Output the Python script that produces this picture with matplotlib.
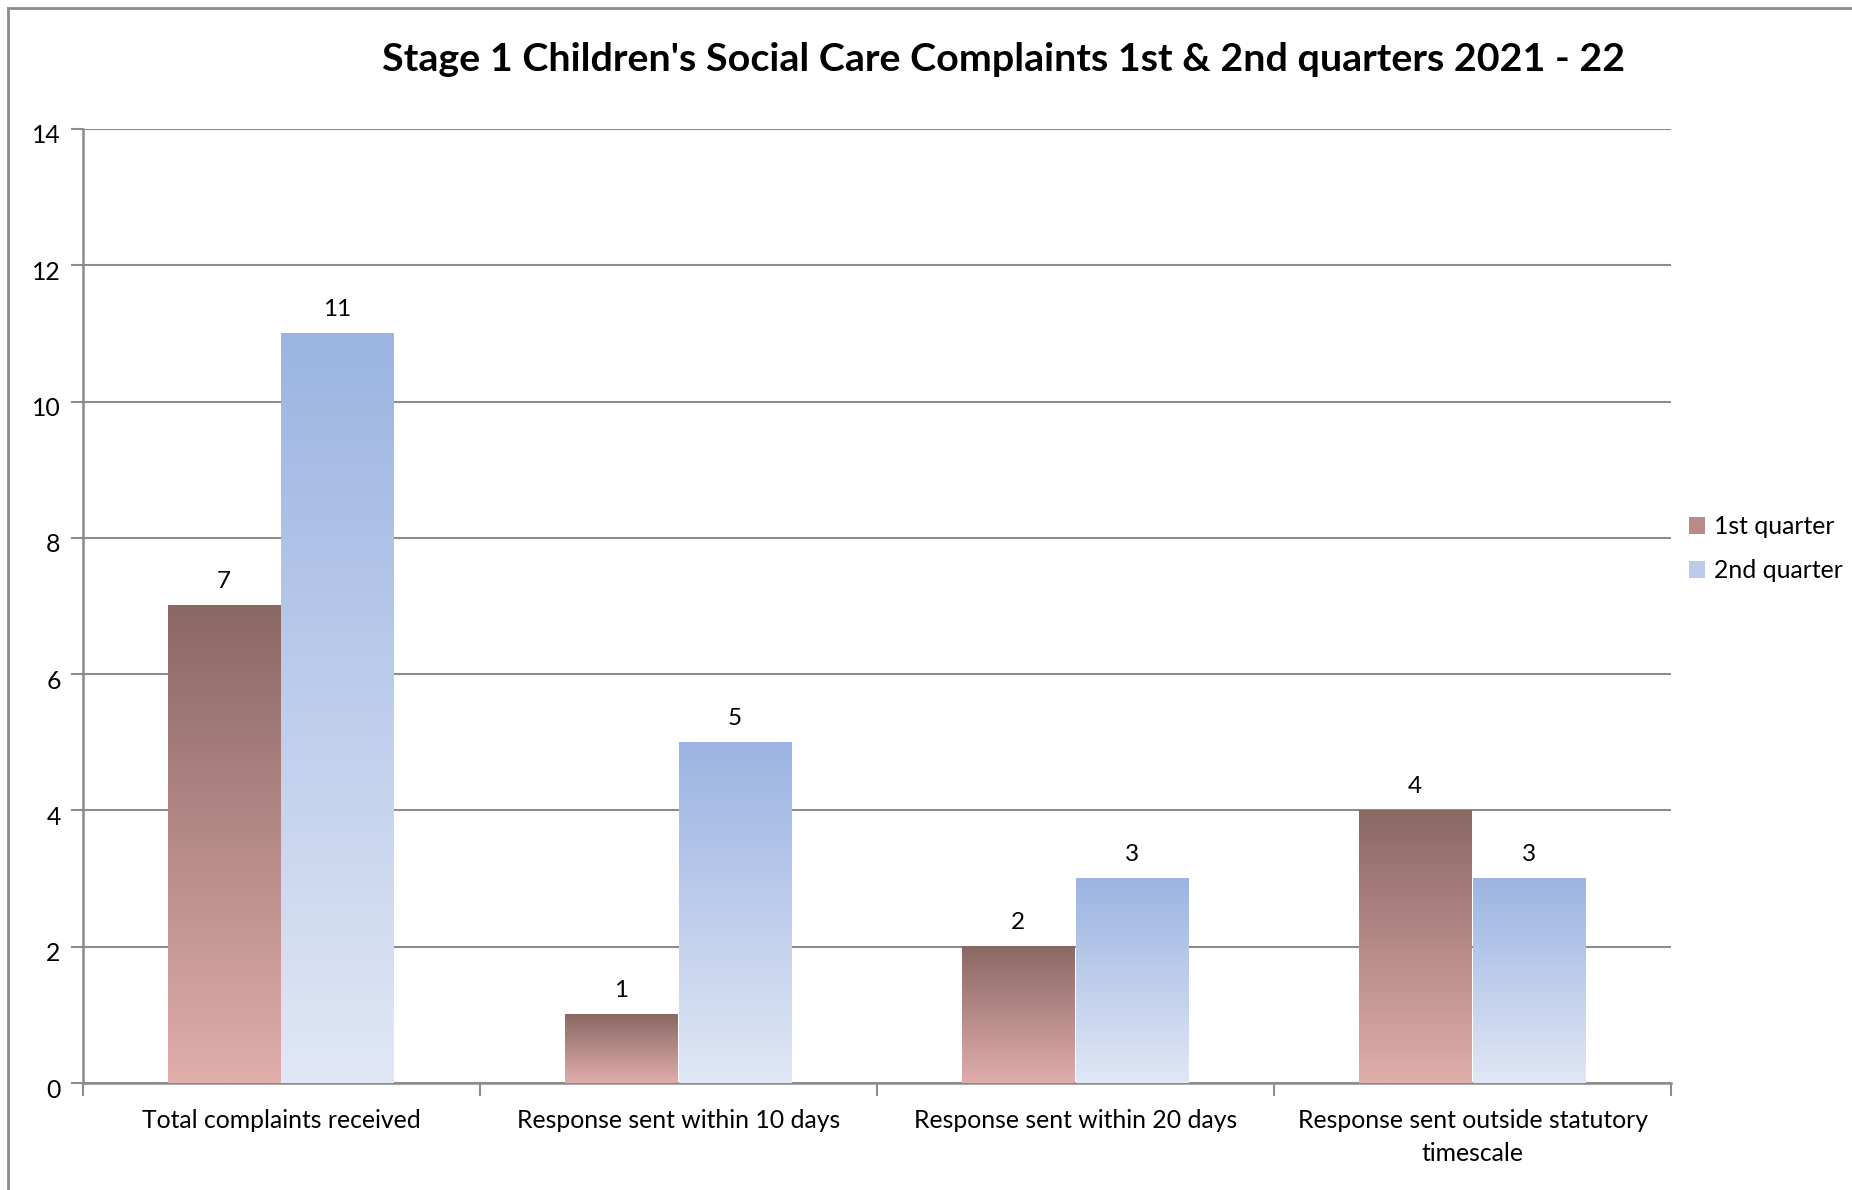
import numpy as np
import matplotlib.pyplot as plt
import matplotlib.transforms as mtransforms
from matplotlib.colors import LinearSegmentedColormap
from matplotlib.patches import Patch
from matplotlib.lines import Line2D

categories = ['Total complaints received',
              'Response sent within 10 days',
              'Response sent within 20 days',
              'Response sent outside statutory\ntimescale']
series_names = ['1st quarter', '2nd quarter']
q1 = [7, 1, 2, 4]
q2 = [11, 5, 3, 3]

# top / bottom colours of each bar gradient
q1_colors = ('#8a6864', '#e0adab')
q2_colors = ('#9bb4e2', '#e1e7f5')

plt.rcParams['font.family'] = ['Lato', 'DejaVu Sans']

fig = plt.figure(figsize=(18.52, 11.90), dpi=100)
ax = fig.add_axes([0.0448, 0.0899, 0.8575, 0.8017])

grey = '#8c8c8c'
width = 0.283
x = np.arange(len(categories))


def gradient_bars(xs, heights, colors, offset):
    cmap = LinearSegmentedColormap.from_list('g', [colors[1], colors[0]])
    grad = np.linspace(0, 1, 256).reshape(-1, 1)
    for xc, h in zip(xs, heights):
        x0 = xc + offset
        ax.imshow(grad, extent=(x0, x0 + width, 0, h), origin='lower',
                  aspect='auto', cmap=cmap, zorder=3, interpolation='bilinear')
        ax.text(x0 + width / 2, h + 0.2, str(h), ha='center', va='bottom',
                fontsize=17.5, zorder=4)


gradient_bars(x, q1, q1_colors, -width - 0.004)
gradient_bars(x, q2, q2_colors, 0.0)

ax.set_xlim(-0.5, len(categories) - 0.5)
ax.set_ylim(0, 14)
ax.set_yticks(range(0, 15, 2))
ax.yaxis.grid(True, color=grey, lw=1.5, zorder=0)
ax.set_axisbelow(True)

ax.set_xticks(np.arange(-0.5, len(categories), 1))
ax.set_xticklabels([])
ax.set_xticks(x, minor=True)
ax.set_xticklabels(categories, minor=True, fontsize=17.8, linespacing=1.5)
ax.tick_params(axis='x', which='minor', length=0, pad=19)
ax.tick_params(axis='x', which='major', length=9, width=1.5, color=grey, direction='out')
ax.tick_params(axis='y', length=9, width=1.5, color=grey, labelsize=17.8, pad=7)

# y labels sit a little below their gridlines
shift = mtransforms.ScaledTranslation(0, -5 / 100, fig.dpi_scale_trans)
for lbl in ax.get_yticklabels():
    lbl.set_transform(lbl.get_transform() + shift)

for side in ['top', 'right']:
    ax.spines[side].set_visible(False)
for side in ['left', 'bottom']:
    ax.spines[side].set_color(grey)
    ax.spines[side].set_linewidth(1.8)

fig.text(0.542, 0.950, "Stage 1 Children's Social Care Complaints 1st & 2nd quarters 2021 - 22",
         ha='center', va='center', fontsize=28.4, fontweight='bold')

handles = [Patch(facecolor='#b58c89', edgecolor='none'),
           Patch(facecolor='#bccbeb', edgecolor='none')]
fig.legend(handles, series_names, loc='center left', bbox_to_anchor=(0.912, 0.539),
           frameon=False, fontsize=17.8, handlelength=0.65, handleheight=0.65,
           handletextpad=0.35, labelspacing=0.85, borderaxespad=0, borderpad=0)

# outer frame, left and top edges
fig.add_artist(Line2D([0.0045, 0.0045], [0, 0.9935], transform=fig.transFigure,
                      color=grey, lw=2))
fig.add_artist(Line2D([0.0045, 1], [0.9935, 0.9935], transform=fig.transFigure,
                      color=grey, lw=2))

fig.savefig('out.png', dpi=100)
